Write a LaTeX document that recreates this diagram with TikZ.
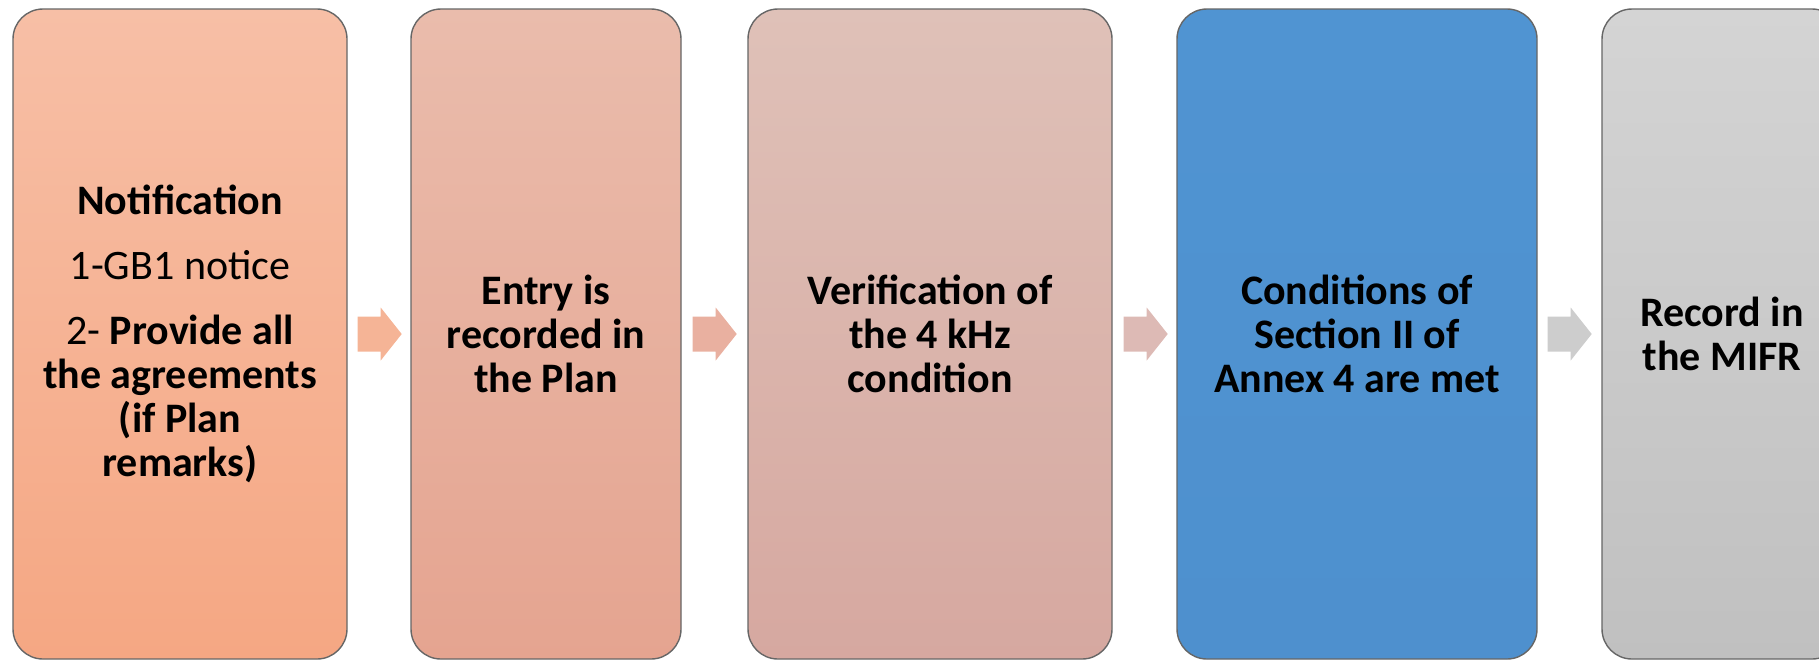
\documentclass[tikz,border=0pt]{standalone}
\usepackage{fontspec}
\setmainfont{Carlito}
\usetikzlibrary{calc,
  positioning
}
\definecolor{stageatop}{RGB}{247,191,166}
\definecolor{stageabot}{RGB}{245,167,131}
\definecolor{stagebtop}{RGB}{234,188,172}
\definecolor{stagebbot}{RGB}{229,164,144}
\definecolor{stagectop}{RGB}{223,193,184}
\definecolor{stagecbot}{RGB}{214,168,160}
\definecolor{stagedtop}{RGB}{80,148,210}
\definecolor{stagedbot}{RGB}{78,144,206}
\definecolor{stageetop}{RGB}{212,212,212}
\definecolor{stageebot}{RGB}{192,192,192}

\begin{document}
\begin{tikzpicture}[x=0.5pt,y=-0.5pt,
  stagebox/.style={shade, rounded corners=15pt, draw=gray!80!black, line width=0.7pt,
    minimum height=325pt, inner sep=0pt, align=center,
    font=\fontsize{21}{22}\selectfont\bfseries},
  flow/.style={line width=0pt}]
  \useasboundingbox (0,0) rectangle (1819,661);
  \clip (0,0) rectangle (1819,661);

  \node[stagebox, top color=stageatop, bottom color=stageabot, minimum width=167pt]
  (notif) at (180,334)
  {Notification\\[10.5pt]{\mdseries 1-GB1 notice}\\[10.5pt]{\mdseries 2-} Provide all\\
    the agreements\\(if Plan\\remarks)};
  \node[stagebox, top color=stagebtop, bottom color=stagebbot, minimum width=135pt]
  (entry) at (546,334) {Entry is\\recorded in\\the Plan};
  \node[stagebox, top color=stagectop, bottom color=stagecbot, minimum width=182pt]
  (verif) at (930,334) {Verification of\\the 4 kHz\\condition};
  \node[stagebox, top color=stagedtop, bottom color=stagedbot, minimum width=180pt]
  (cond) at (1357,334) {Conditions of\\Section II of\\Annex 4 are met};
  \node[stagebox, top color=stageetop, bottom color=stageebot, minimum width=120pt]
  (mifr) at (1722,334) {Record in\\the MIFR};

  \fill[flow, fill={rgb,255:red,245;green,180;blue,150}]
  ($(notif.east) + (10,-17.5)$) -- ++(23,0) -- ++(0,-9) -- ++(21,26.5)
  -- ++(-21,26.5) -- ++(0,-9) -- ++(-23,0) -- cycle;
  \fill[flow, fill={rgb,255:red,233;green,176;blue,160}]
  ($(entry.east) + (11,-17.5)$) -- ++(23,0) -- ++(0,-9) -- ++(21,26.5)
  -- ++(-21,26.5) -- ++(0,-9) -- ++(-23,0) -- cycle;
  \fill[flow, fill={rgb,255:red,221;green,186;blue,181}]
  ($(verif.east) + (11,-17.5)$) -- ++(23,0) -- ++(0,-9) -- ++(21,26.5)
  -- ++(-21,26.5) -- ++(0,-9) -- ++(-23,0) -- cycle;
  \fill[flow, fill={rgb,255:red,205;green,205;blue,205}]
  ($(cond.east) + (10,-17.5)$) -- ++(23,0) -- ++(0,-9) -- ++(21,26.5)
  -- ++(-21,26.5) -- ++(0,-9) -- ++(-23,0) -- cycle;
\end{tikzpicture}
\end{document}
